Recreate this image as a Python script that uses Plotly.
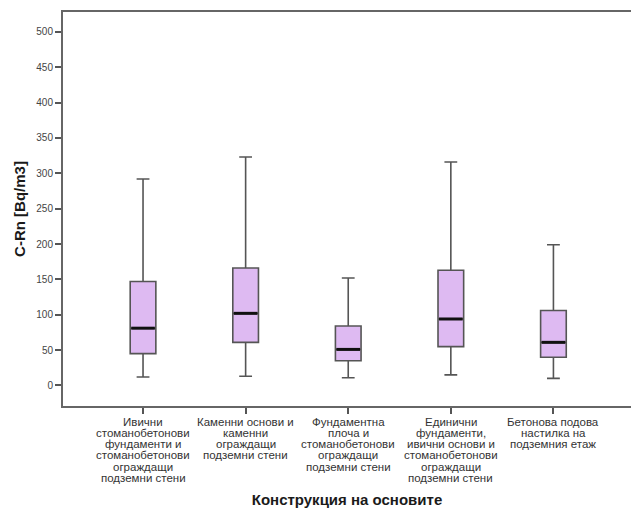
import plotly.graph_objects as go

categories = [
    "Ивични<br>стоманобетонови<br>фундаменти и<br>стоманобетонови<br>ограждащи<br>подземни стени",
    "Каменни основи и<br>каменни<br>ограждащи<br>подземни стени",
    "Фундаментна<br>плоча и<br>стоманобетонови<br>ограждащи<br>подземни стени",
    "Единични<br>фундаменти,<br>ивични основи и<br>стоманобетонови<br>ограждащи<br>подземни стени",
    "Бетонова подова<br>настилка на<br>подземния етаж",
]
lower_whisker = [12, 13, 11, 15, 10]
q1_values = [45, 61, 35, 55, 40]
median_values = [81, 102, 51, 94, 61]
q3_values = [147, 166, 84, 163, 106]
upper_whisker = [292, 323, 152, 316, 199]
y_ticks = [0, 50, 100, 150, 200, 250, 300, 350, 400, 450, 500]

positions = list(range(len(categories)))
box_half = 0.125

fig = go.Figure()
fig.add_trace(go.Box(
    x=positions,
    q1=q1_values, median=median_values, q3=q3_values,
    lowerfence=lower_whisker, upperfence=upper_whisker,
    fillcolor="#DEBAF2",
    line=dict(color="#555555", width=1.6),
    width=0.25,
    whiskerwidth=0.5,
    boxpoints=False,
    hoverinfo="skip",
    showlegend=False,
))

mx, my = [], []
for p, m in zip(positions, median_values):
    mx += [p - box_half + 0.01, p + box_half - 0.01, None]
    my += [m, m, None]
fig.add_trace(go.Scatter(
    x=mx, y=my, mode="lines",
    line=dict(color="#111111", width=3),
    hoverinfo="skip", showlegend=False,
))

# category labels, one line each (tight line spacing as in the reference)
annotations = []
for p, label in zip(positions, categories):
    for j, line in enumerate(label.split("<br>")):
        annotations.append(dict(
            x=p, xref="x", y=0, yref="paper",
            text=line, showarrow=False,
            xanchor="center", yanchor="middle",
            yshift=-(15.7 + j * 11.2),
            font=dict(size=11.5, color="#333333"),
        ))

fig.update_layout(
    width=631, height=508,
    margin=dict(l=63, r=0, t=12, b=102),
    plot_bgcolor="white", paper_bgcolor="white",
    font=dict(family="Liberation Sans, Arial, sans-serif", color="#333333", size=11),
    annotations=annotations,
)
fig.update_xaxes(
    range=[-0.78, 4.756],
    tickvals=positions, showticklabels=False,
    ticks="outside", ticklen=6, tickwidth=1.5, tickcolor="#555555",
    showline=True, linecolor="#666666", linewidth=2, mirror=True,
    showgrid=False, zeroline=False, automargin=False,
    title=dict(text="<b>Конструкция на основите</b>", font=dict(size=15, color="#1a1a1a"), standoff=84),
)
fig.update_yaxes(
    range=[-29, 528],
    tickvals=y_ticks,
    ticks="outside", ticklen=6, tickwidth=1.5, tickcolor="#555555",
    showline=True, linecolor="#666666", linewidth=2,
    showgrid=False, zeroline=False, automargin=False,
    tickfont=dict(size=10, color="#444444"),
    title=dict(text="<b>C-Rn [Bq/m3]</b>", font=dict(size=15, color="#1a1a1a"), standoff=7),
)

fig.write_html(
    "out.html",
    config={"displayModeBar": False},
    post_script="document.body.style.margin='0';document.body.style.padding='0';",
)
